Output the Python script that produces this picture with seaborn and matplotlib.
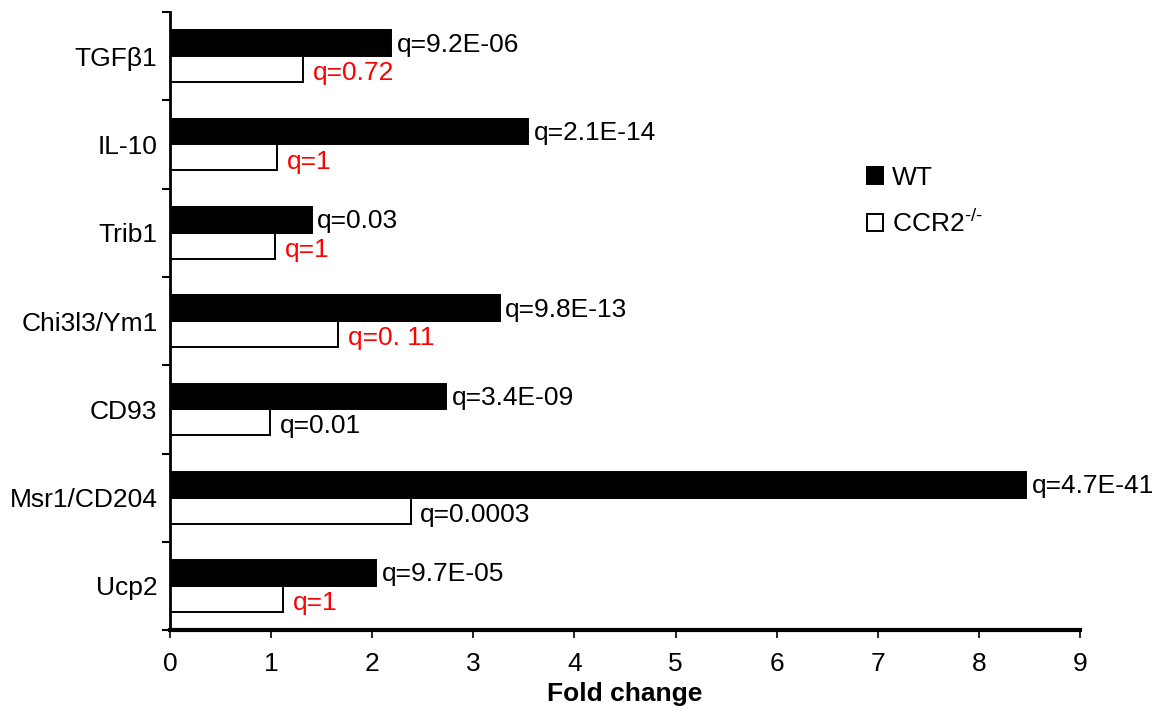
import matplotlib
matplotlib.use("Agg")
import matplotlib.pyplot as plt
import seaborn as sns
import pandas as pd

# values
genes = ["TGF\u03b21", "IL-10", "Trib1", "Chi3l3/Ym1", "CD93", "Msr1/CD204", "Ucp2"]
wt_fold = [2.19, 3.54, 1.40, 3.26, 2.73, 8.47, 2.04]
ko_fold = [1.32, 1.06, 1.04, 1.66, 0.99, 2.38, 1.12]
wt_q = ["q=9.2E-06", "q=2.1E-14", "q=0.03", "q=9.8E-13", "q=3.4E-09", "q=4.7E-41", "q=9.7E-05"]
ko_q = ["q=0.72", "q=1", "q=1", "q=0. 11", "q=0.01", "q=0.0003", "q=1"]
ko_q_red = [True, True, True, True, False, False, True]
groups = ["WT", "CCR2$^{\\mathregular{\u2010/\u2010}}$"]

df = pd.DataFrame({
    "gene": genes * 2,
    "fold": wt_fold + ko_fold,
    "group": [groups[0]] * len(genes) + [groups[1]] * len(genes),
})

sns.set_style("white")
plt.rcParams["font.family"] = ["Liberation Sans", "DejaVu Sans"]
plt.rcParams["mathtext.fontset"] = "custom"
plt.rcParams["mathtext.rm"] = "Liberation Sans"
for k in ["text.color", "axes.labelcolor", "xtick.color", "ytick.color"]:
    plt.rcParams[k] = "black"
fs = 19

fig, ax = plt.subplots(figsize=(11.61, 7.08), dpi=100)
fig.subplots_adjust(left=0.1464, right=0.9302, top=0.983, bottom=0.110)

sns.barplot(data=df, y="gene", x="fold", hue="group", order=genes, hue_order=groups,
            palette={groups[0]: "black", groups[1]: "white"}, orient="h",
            width=0.585, edgecolor="black", linewidth=1.4, ax=ax, legend=False)

# q-value annotations
wt_texts = ax.bar_label(ax.containers[0], labels=wt_q, padding=4, fontsize=fs)
ko_texts = ax.bar_label(ax.containers[1], labels=ko_q, padding=7, fontsize=fs)
for t in wt_texts:
    t.xyann = (t.xyann[0], -1)
for t, red in zip(ko_texts, ko_q_red):
    t.set_color("red" if red else "black")
    t.xyann = (t.xyann[0], -3)

ax.set_xlim(0, 9)
ax.set_ylim(len(genes) - 0.5, -0.5)
ax.set_xticks(range(10))
ax.set_yticks(range(len(genes)))
ax.set_yticklabels(genes, fontsize=fs)
ax.set_yticks([i - 0.5 for i in range(len(genes) + 1)], minor=True)
ax.tick_params(axis="y", which="major", length=0, pad=9)
ax.tick_params(axis="y", which="minor", left=True, length=6, width=1.5, direction="out")
ax.tick_params(axis="x", which="major", bottom=True, length=6, width=1.2, direction="out",
               labelsize=fs, pad=10)
ax.set_xlabel("Fold change", fontsize=fs, fontweight="bold", labelpad=4)
ax.set_ylabel("")

for side in ["top", "right"]:
    ax.spines[side].set_visible(False)
ax.spines["left"].set_linewidth(2)
ax.spines["bottom"].set_linewidth(3)
ax.spines["left"].set_color("black")
ax.spines["bottom"].set_color("black")

handles = [plt.Rectangle((0, 0), 1, 1, facecolor="black", edgecolor="black", lw=1.4),
           plt.Rectangle((0, 0), 1, 1, facecolor="white", edgecolor="black", lw=1.4)]
ax.legend(handles, groups, loc="upper left", bbox_to_anchor=(0.74, 0.79), frameon=False,
          fontsize=fs, handlelength=0.6, handleheight=0.6, handletextpad=0.35,
          labelspacing=0.75)

fig.savefig("out.png", dpi=100)
